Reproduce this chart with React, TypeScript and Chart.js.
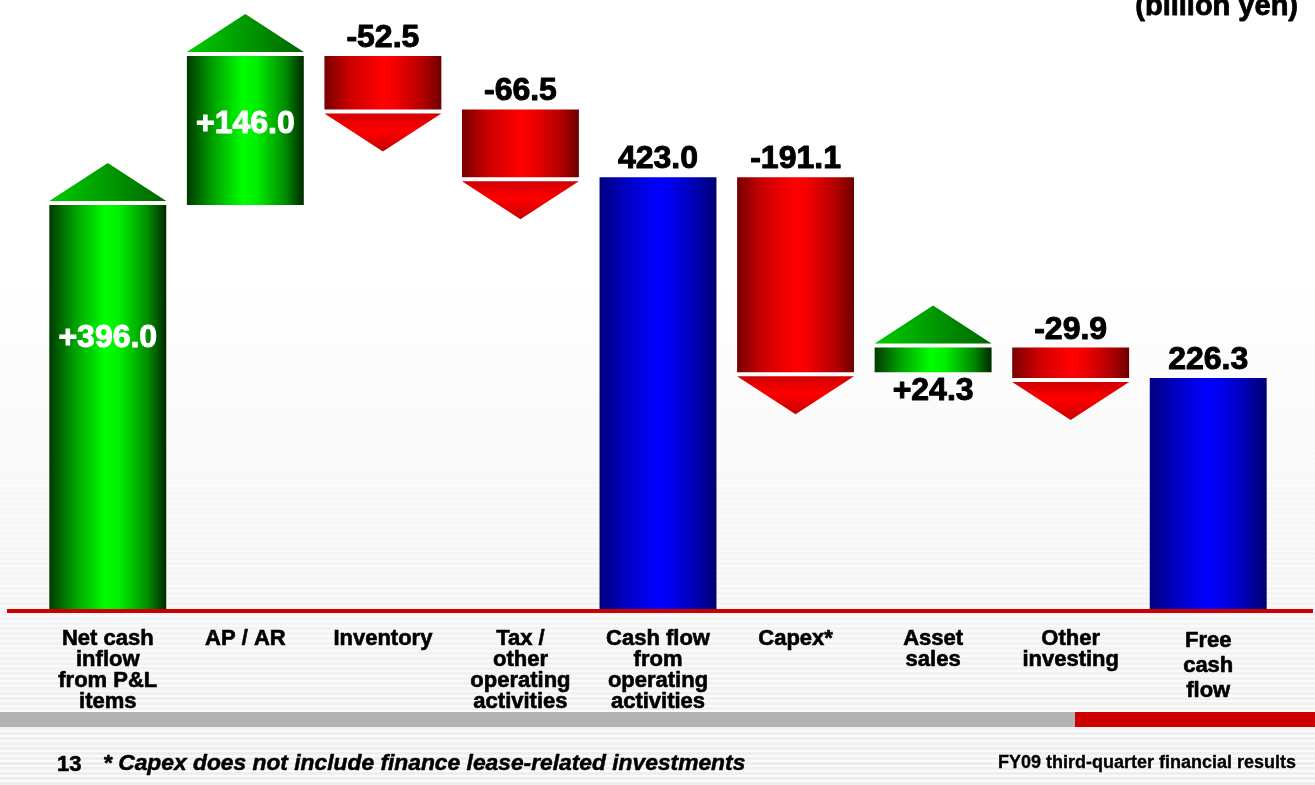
import React, { useEffect, useRef } from "react";
import { Chart, registerables } from "chart.js";

Chart.register(...registerables);

// ---------- data ----------
const categories: string[][] = [
  ["Net cash", "inflow", "from P&L", "items"],
  ["AP / AR"],
  ["Inventory"],
  ["Tax /", "other", "operating", "activities"],
  ["Cash flow", "from", "operating", "activities"],
  ["Capex*"],
  ["Asset", "sales"],
  ["Other", "investing"],
  ["Free", "cash", "flow"],
];
const changes: (number | null)[] = [396.0, 146.0, -52.5, -66.5, null, -191.1, 24.3, -29.9, null];
const subtotals: (number | null)[] = [null, null, null, null, 423.0, null, null, null, 226.3];
const valueLabels: string[] = ["+396.0", "+146.0", "-52.5", "-66.5", "423.0", "-191.1", "+24.3", "-29.9", "226.3"];
const labelPlacement: string[] = ["inside", "inside", "above", "above", "above", "above", "below", "above", "above"];
const insideFraction: number[] = [0.33, 0.46, 0, 0, 0, 0, 0, 0, 0];
const unitLabel = "(billion yen)";
const pageNumber = "13";
const footnote = "* Capex does not include finance lease-related investments";
const footerTitle = "FY09 third-quarter financial results";
const yMax = 585;

const FONT = '"Liberation Sans", Arial, Helvetica, sans-serif';

function buildRanges(): number[][] {
  let running = 0;
  return categories.map((_, i) => {
    const t = subtotals[i];
    if (t !== null && t !== undefined) {
      running = t;
      return [0, t];
    }
    const start = running;
    running = running + (changes[i] as number);
    return [start, running];
  });
}

function kindOf(i: number): "up" | "down" | "total" {
  if (subtotals[i] !== null && subtotals[i] !== undefined) return "total";
  return (changes[i] as number) >= 0 ? "up" : "down";
}

const BAR_PCT = 0.85;

function heavyText(ctx: CanvasRenderingContext2D, text: string, x: number, y: number, color: string, w: number) {
  ctx.fillStyle = color;
  ctx.strokeStyle = color;
  ctx.lineWidth = w;
  ctx.lineJoin = "round";
  ctx.strokeText(text, x, y);
  ctx.fillText(text, x, y);
}

const backgroundPlugin = {
  id: "bgStripes",
  beforeDraw(chart: any) {
    const { ctx, width, height } = chart;
    ctx.save();
    const g = ctx.createLinearGradient(0, 0, 0, height);
    g.addColorStop(0, "#ffffff");
    g.addColorStop(0.35, "#ffffff");
    g.addColorStop(1, "#eeeeee");
    ctx.fillStyle = g;
    ctx.fillRect(0, 0, width, height);
    for (let y = 0; y < height; y += 5) {
      const t = Math.max(0, (y - 220) / (height - 220));
      ctx.fillStyle = `rgba(255,255,255,${(0.8 * t).toFixed(3)})`;
      ctx.fillRect(0, y, width, 2);
    }
    ctx.restore();
  },
  afterDraw(chart: any) {
    const { ctx, width } = chart;
    ctx.save();
    // bottom band
    ctx.fillStyle = "#b3b3b3";
    ctx.fillRect(0, 712, 1075, 15);
    ctx.fillStyle = "#cc0000";
    ctx.fillRect(1075, 712, width - 1075, 15);
    // unit label
    ctx.textBaseline = "alphabetic";
    ctx.textAlign = "right";
    ctx.font = `bold 29px ${FONT}`;
    heavyText(ctx, unitLabel, 1298, 15, "#000", 0.8);
    // footer
    ctx.textAlign = "left";
    ctx.font = `bold 22px ${FONT}`;
    heavyText(ctx, pageNumber, 57, 771, "#000", 0.6);
    ctx.font = `italic bold 22.8px ${FONT}`;
    heavyText(ctx, footnote, 103, 770, "#000", 0.5);
    ctx.textAlign = "right";
    ctx.font = `bold 18px ${FONT}`;
    heavyText(ctx, footerTitle, 1296, 768, "#000", 0.3);
    ctx.restore();
  },
};

const decorPlugin = {
  id: "waterfallDecor",
  afterDatasetsDraw(chart: any) {
    const { ctx } = chart;
    const meta = chart.getDatasetMeta(0);
    const yScale = chart.scales.y;
    ctx.save();
    meta.data.forEach((bar: any, i: number) => {
      const kind = kindOf(i);
      const top = Math.min(bar.y, bar.base);
      const bottom = Math.max(bar.y, bar.base);
      const left = bar.x - bar.width / 2;
      const right = bar.x + bar.width / 2;
      const gap = 4;
      const th = 38;
      if (kind === "up") {
        const g = ctx.createLinearGradient(left, 0, right, 0);
        g.addColorStop(0, "#00cc00");
        g.addColorStop(0.5, "#009a00");
        g.addColorStop(1, "#006400");
        ctx.fillStyle = g;
        ctx.beginPath();
        ctx.moveTo(left, top - gap);
        ctx.lineTo(right, top - gap);
        ctx.lineTo(bar.x, top - gap - th);
        ctx.closePath();
        ctx.fill();
      } else if (kind === "down") {
        const g = ctx.createLinearGradient(0, bottom + gap, 0, bottom + gap + th);
        g.addColorStop(0, "#d00000");
        g.addColorStop(0.45, "#ff0000");
        g.addColorStop(1, "#c40000");
        ctx.fillStyle = g;
        ctx.beginPath();
        ctx.moveTo(left, bottom + gap);
        ctx.lineTo(right, bottom + gap);
        ctx.lineTo(bar.x, bottom + gap + th);
        ctx.closePath();
        ctx.fill();
      }
      // value labels
      ctx.font = `bold 32px ${FONT}`;
      ctx.textAlign = "center";
      const place = labelPlacement[i];
      if (place === "inside") {
        ctx.textBaseline = "middle";
        heavyText(ctx, valueLabels[i], bar.x, top + (bottom - top) * insideFraction[i], "#ffffff", 1);
      } else if (place === "below") {
        ctx.textBaseline = "alphabetic";
        heavyText(ctx, valueLabels[i], bar.x, bottom + 28, "#000000", 1);
      } else {
        ctx.textBaseline = "alphabetic";
        heavyText(ctx, valueLabels[i], bar.x, top - 9, "#000000", 1);
      }
    });
    // red baseline
    const zero = yScale.getPixelForValue(0);
    ctx.fillStyle = "#cc0000";
    ctx.fillRect(7, zero, 1306, 4);
    ctx.restore();
  },
};

export default function App() {
  const canvasRef = useRef<HTMLCanvasElement | null>(null);

  useEffect(() => {
    const canvas = canvasRef.current;
    if (!canvas) return;
    const ranges = buildRanges();
    const chart = new Chart(canvas, {
      type: "bar",
      data: {
        labels: categories,
        datasets: [
          {
            data: ranges as any,
            barPercentage: BAR_PCT,
            categoryPercentage: 1.0,
            borderWidth: 0,
            backgroundColor: (c: any) => {
              const ch = c.chart;
              const xs = ch.scales && ch.scales.x;
              if (c.type !== "data" || !xs || !ch.chartArea) return "#00cc00";
              const i = c.dataIndex;
              const cx = xs.getPixelForValue(i);
              const half = ((xs.width / categories.length) * BAR_PCT) / 2;
              const g = ch.ctx.createLinearGradient(cx - half, 0, cx + half, 0);
              const k = kindOf(i);
              if (k === "up") {
                g.addColorStop(0, "#003a00");
                g.addColorStop(0.22, "#00a000");
                g.addColorStop(0.48, "#00ff00");
                g.addColorStop(0.6, "#00ee00");
                g.addColorStop(0.85, "#008800");
                g.addColorStop(1, "#002800");
              } else if (k === "down") {
                g.addColorStop(0, "#780000");
                g.addColorStop(0.22, "#cc0000");
                g.addColorStop(0.5, "#ff0000");
                g.addColorStop(0.6, "#f40000");
                g.addColorStop(0.85, "#b00000");
                g.addColorStop(1, "#6e0000");
              } else {
                g.addColorStop(0, "#000080");
                g.addColorStop(0.22, "#0000c0");
                g.addColorStop(0.5, "#0000ff");
                g.addColorStop(0.6, "#0000f0");
                g.addColorStop(0.85, "#0000a8");
                g.addColorStop(1, "#000070");
              }
              return g;
            },
          },
        ],
      },
      options: {
        responsive: false,
        animation: false,
        layout: { padding: { top: 12, left: 39, right: 38, bottom: 76 } },
        plugins: {
          legend: { display: false },
          tooltip: { enabled: false },
        },
        scales: {
          x: {
            offset: true,
            grid: { display: false, drawTicks: false },
            border: { display: false },
            ticks: {
              autoSkip: false,
              maxRotation: 0,
              minRotation: 0,
              padding: 19,
              color: "#000000",
              textStrokeColor: "#000000",
              textStrokeWidth: 0.6,
              font: (c: any) => ({
                family: FONT,
                size: 22,
                weight: "bold",
                lineHeight: c.index === categories.length - 1 ? "25px" : "21px",
              }),
            },
            afterFit: (s: any) => {
              s.height = 100;
            },
          },
          y: {
            display: false,
            min: 0,
            max: yMax,
          },
        },
      },
      plugins: [backgroundPlugin, decorPlugin],
    });
    return () => chart.destroy();
  }, []);

  return (
    <div style={{ position: "absolute", left: 0, top: 0, width: 1315, height: 785 }}>
      <canvas ref={canvasRef} width={1315} height={785} style={{ display: "block" }} />
    </div>
  );
}
